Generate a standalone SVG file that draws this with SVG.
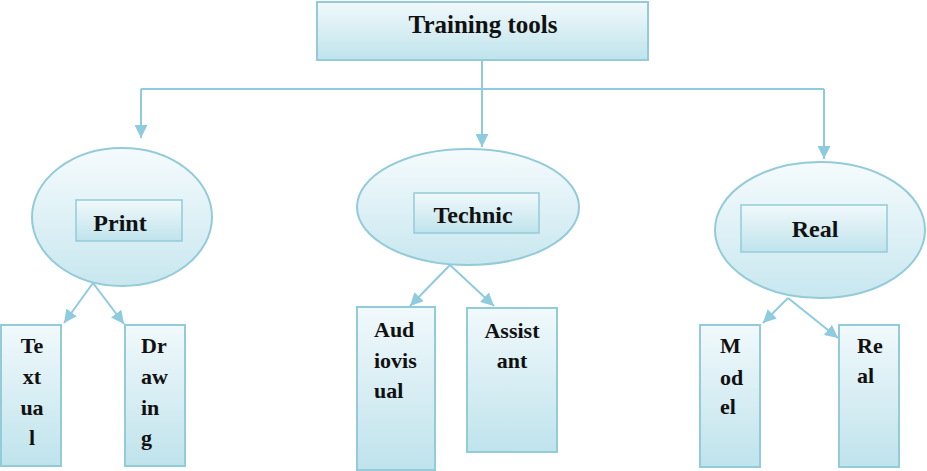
<svg xmlns="http://www.w3.org/2000/svg" width="927" height="471" viewBox="0 0 927 471">
<defs>
<linearGradient id="g" x1="0" y1="0" x2="0" y2="1">
<stop offset="0" stop-color="#f1f9fb"/>
<stop offset="1" stop-color="#bfe3ec"/>
</linearGradient>
<linearGradient id="ge" x1="0" y1="0" x2="0" y2="1">
<stop offset="0" stop-color="#f5fbfd"/>
<stop offset="1" stop-color="#c8e7ef"/>
</linearGradient>
<marker id="ah" viewBox="0 0 10 10" refX="10" refY="5" markerWidth="6.5" markerHeight="6.5" markerUnits="strokeWidth" orient="auto">
<path d="M0,0 L10,5 L0,10 z" fill="#8ecbdf"/>
</marker>
<style>
.box{fill:url(#g);stroke:#93cbd9;stroke-width:2}
.ell{fill:url(#ge);stroke:#93cbd9;stroke-width:2}
.inner{fill:url(#g);stroke:#93cbd9;stroke-width:1.5}
.t{font-family:"Liberation Serif",serif;font-weight:bold;fill:#111;font-size:22px}
.c{text-anchor:middle}
.ln{fill:none;stroke:#8ecbdf;stroke-width:2}
</style>
</defs>
<g id="connectors">
<path class="ln" d="M482,60 V147" marker-end="url(#ah)"/>
<path class="ln" d="M141,89 H824"/>
<path class="ln" d="M141,89 V138" marker-end="url(#ah)"/>
<path class="ln" d="M824,89 V159" marker-end="url(#ah)"/>
<path class="ln" d="M93,283 L64,323" marker-end="url(#ah)"/>
<path class="ln" d="M93,283 L124,324" marker-end="url(#ah)"/>
<path class="ln" d="M450,265 L410,306" marker-end="url(#ah)"/>
<path class="ln" d="M450,265 L494,306" marker-end="url(#ah)"/>
<path class="ln" d="M788,298 L763,323" marker-end="url(#ah)"/>
<path class="ln" d="M788,298 L838,338" marker-end="url(#ah)"/>
</g>
<g id="training-tools">
<rect class="box" x="317" y="2" width="331" height="58"/>
<text class="t c" x="483" y="33" style="font-size:25px">Training tools</text>
</g>
<g id="print">
<ellipse class="ell" cx="122" cy="217" rx="90" ry="69"/>
<rect class="inner" x="76" y="200" width="106" height="41"/>
<text class="t c" x="120" y="231" style="font-size:24px">Print</text>
</g>
<g id="technic">
<ellipse class="ell" cx="468" cy="207" rx="111" ry="58"/>
<rect class="inner" x="414" y="193" width="125" height="40"/>
<text class="t c" x="473" y="223" style="font-size:24px">Technic</text>
</g>
<g id="real">
<ellipse class="ell" cx="820" cy="230" rx="105" ry="68"/>
<rect class="inner" x="741" y="205" width="146" height="47"/>
<text class="t c" x="815" y="237" style="font-size:24px">Real</text>
</g>
<g id="textual">
<rect class="box" x="1" y="325" width="60" height="141"/>
<text class="t c" x="32" y="353">Te</text>
<text class="t c" x="32" y="384">xt</text>
<text class="t c" x="32" y="415">ua</text>
<text class="t c" x="32" y="445">l</text>
</g>
<g id="drawing">
<rect class="box" x="125" y="325" width="60" height="141"/>
<text class="t" x="141" y="353">Dr</text>
<text class="t" x="141" y="384">aw</text>
<text class="t" x="141" y="415">in</text>
<text class="t" x="141" y="445">g</text>
</g>
<g id="audiovisual">
<rect class="box" x="357" y="307" width="78" height="163"/>
<text class="t" x="374" y="337">Aud</text>
<text class="t" x="374" y="368">iovis</text>
<text class="t" x="374" y="398">ual</text>
</g>
<g id="assistant">
<rect class="box" x="467" y="308" width="90" height="144"/>
<text class="t c" x="512" y="338">Assist</text>
<text class="t c" x="512" y="368">ant</text>
</g>
<g id="model">
<rect class="box" x="700" y="325" width="60" height="142"/>
<text class="t" x="720" y="353">M</text>
<text class="t" x="720" y="385">od</text>
<text class="t" x="720" y="414">el</text>
</g>
<g id="real-item">
<rect class="box" x="839" y="325" width="60" height="142"/>
<text class="t" x="857" y="353">Re</text>
<text class="t" x="857" y="383">al</text>
</g>
</svg>
